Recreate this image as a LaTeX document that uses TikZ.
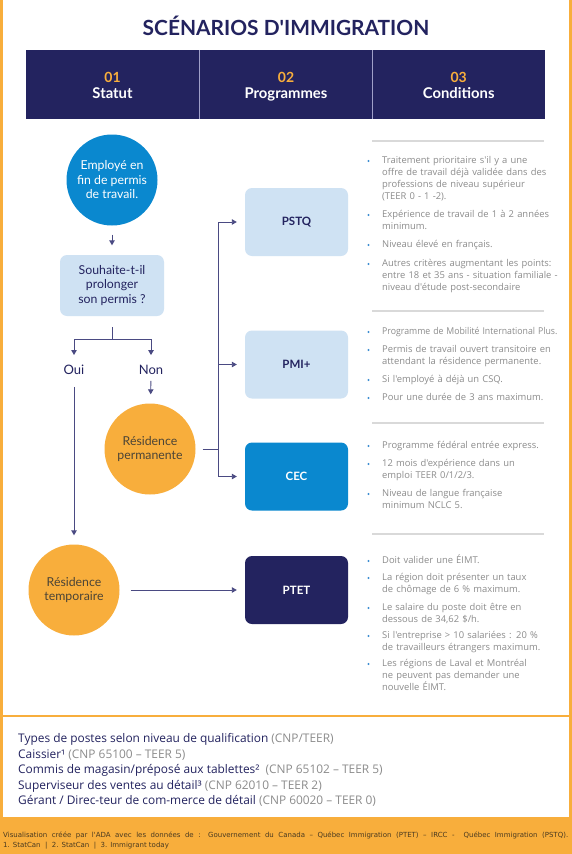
\documentclass[tikz,border=0pt]{standalone}
\usepackage{fontspec}
\setmainfont{Lato}
\newfontfamily\osans{Open Sans}
\newfontfamily\dvsans{DejaVu Sans}
\usetikzlibrary{arrows.meta}
\definecolor{navy}{HTML}{23235F}
\definecolor{orng}{HTML}{F8AE3C}
\definecolor{cblue}{HTML}{0A88CF}
\definecolor{lblue}{HTML}{CFE2F3}
\definecolor{gtext}{HTML}{8C8C8C}
\definecolor{sepgray}{HTML}{D9D9D9}
\definecolor{bblue}{HTML}{3C8DD2}
\definecolor{circtext}{HTML}{4B4436}
\definecolor{divline}{HTML}{A0A0C8}
\definecolor{linecol}{HTML}{4A4A82}
\definecolor{srctext}{HTML}{4A3A20}
\tikzset{
  circ/.style={circle, minimum size=91pt, inner sep=0pt, align=center, font=\fontsize{12.3}{14.5}\selectfont},
  bluecirc/.style={circ, fill=cblue, text=white},
  orcirc/.style={circ, fill=orng, text=circtext},
  prog/.style={rounded corners=7pt, minimum width=103pt, minimum height=68pt, inner sep=0pt, font=\bfseries\fontsize{11.5}{14}\selectfont},
  lprog/.style={prog, fill=lblue, text=navy},
  qbox/.style={rounded corners=7pt, minimum width=104pt, minimum height=61pt, inner sep=0pt, fill=lblue, text=navy, align=center, font=\fontsize{12.3}{14.2}\selectfont},
  lbl/.style={inner sep=0pt, text=navy, font=\fontsize{13}{15}\selectfont},
  conn/.style={draw=linecol, line width=0.9pt, -{Triangle[length=5pt,width=5.5pt]}},
  plain/.style={draw=linecol, line width=0.9pt},
  btext/.style={anchor=north west, inner sep=0pt, text=gtext, align=left, text width=185pt, font=\osans\fontsize{9.4}{12}\selectfont},
  hnum/.style={anchor=base, text=orng, font=\bfseries\fontsize{14}{16}\selectfont, inner sep=0pt},
  htit/.style={anchor=base, text=white, font=\bfseries\fontsize{14.8}{17}\selectfont, inner sep=0pt},
  fline/.style={anchor=base west, inner sep=0pt, text=navy, font=\osans\fontsize{11.9}{14}\selectfont},
  srcline/.style={anchor=base west, inner sep=0pt, text=srctext, font=\dvsans\fontsize{7}{9}\selectfont},
  sep/.style={draw=sepgray, line width=1.2pt},
}
\newcommand{\bitem}[3]{%
  \node[btext] (#1) at (382,#2-6.5) {\strut #3};
  \fill[bblue] (368.5,#2) circle (1.1pt);}
\begin{document}
\begin{tikzpicture}[x=1pt,y=-1pt]
\useasboundingbox (0,0) rectangle (572,854);
% frame
\fill[white] (0,0) rectangle (572,854);
\fill[orng] (0,0) rectangle (2.5,818);
\fill[orng] (568.5,0) rectangle (572,818);
\fill[orng] (0,817) rectangle (572,854);
\draw[orng, line width=1.5pt] (0,716) -- (572,716);
% title
\node[text=navy, font=\bfseries\fontsize{20.9}{24}\selectfont, inner sep=0pt] (title) at (286,26) {SCÉNARIOS D\textquotesingle IMMIGRATION};
% header bar
\fill[navy] (26,50) rectangle (545,119);
\draw[divline, line width=0.8pt] (199,50) -- (199,119);
\draw[divline, line width=0.8pt] (372.3,50) -- (372.3,119);
\node[hnum] (n1) at (112.5,82) {01};
\node[htit] (t1) at (112.5,98) {Statut};
\node[hnum] (n2) at (286,82) {02};
\node[htit] (t2) at (286,98) {Programmes};
\node[hnum] (n3) at (458.7,82) {03};
\node[htit] (t3) at (458.7,98) {Conditions};
% flow nodes
\node[bluecirc] (emp) at (112,180) {Employé en\\fin de permis\\de travail.};
\node[qbox] (q) at (112,285.5) {Souhaite-t-il\\prolonger\\son permis ?};
\coordinate (br) at (112,339);
\node[lbl] (oui) at (74,370) {Oui};
\node[lbl] (non) at (151,370) {Non};
\node[orcirc] (rp) at (150,449) {Résidence\\permanente};
\node[orcirc] (rt) at (74,590) {Résidence\\temporaire};
\node[lprog] (pstq) at (296.5,222) {PSTQ};
\node[lprog] (pmi) at (296.5,364.5) {PMI+};
\node[prog, fill=cblue, text=white] (cec) at (296.5,476.5) {CEC};
\node[prog, fill=navy, text=white] (ptet) at (296.5,590) {PTET};
\coordinate (jn) at (218,449);
% connectors
\draw[conn, shorten <=9pt, shorten >=9.5pt] (emp) -- (q);
\draw[plain, shorten <=11pt] (q) -- (br);
\draw[conn, shorten >=10pt] (br) -| (oui);
\draw[conn, shorten >=10pt] (br) -| (non);
\draw[conn, shorten <=6pt, shorten >=9pt] (non) -- (rp);
\draw[conn, shorten <=12pt, shorten >=9pt] (oui) -- (rt);
\draw[plain, shorten <=7pt] (rp) -- (jn);
\draw[conn, shorten >=8pt] (jn) |- (pstq);
\draw[conn, shorten >=8pt] (jn) |- (pmi);
\draw[conn, shorten >=8pt] (jn) |- (cec);
\draw[conn, shorten <=11pt, shorten >=8pt] (rt) -- (ptet);
% conditions
\draw[sep] (372,141) -- (544,141);
\draw[sep] (372,311) -- (544,311);
\draw[sep] (372,423) -- (544,423);
\draw[sep] (372,534) -- (544,534);
\bitem{a1}{161}{Traitement prioritaire s'il y a une\\offre de travail déjà validée dans des\\professions de niveau supérieur\\(TEER 0 - 1 -2).}
\bitem{a2}{215}{Expérience de travail de 1 à 2 années\\minimum.}
\bitem{a3}{245}{Niveau élevé en français.}
\bitem{a4}{264}{Autres critères augmentant les points:\\entre 18 et 35 ans - situation familiale -\\niveau d'étude post-secondaire}
\bitem{b1}{332}{\scalebox{0.93}[1]{Programme de Mobilité International Plus.}}
\bitem{b2}{350}{Permis de travail ouvert transitoire en\\attendant la résidence permanente.}
\bitem{b3}{380}{Si l'employé à déjà un CSQ.}
\bitem{b4}{398}{Pour une durée de 3 ans maximum.}
\bitem{c1}{446}{Programme fédéral entrée express.}
\bitem{c2}{464}{12 mois d'expérience dans un\\emploi TEER 0/1/2/3.}
\bitem{c3}{494}{Niveau de langue française\\minimum NCLC 5.}
\bitem{d1}{561}{Doit valider une ÉIMT.}
\bitem{d2}{578}{La région doit présenter un taux\\de chômage de 6 \% maximum.}
\bitem{d3}{608}{Le salaire du poste doit être en\\dessous de 34,62 \$/h.}
\bitem{d4}{636}{Si l'entreprise > 10 salariées : 20 \%\\de travailleurs étrangers maximum.}
\bitem{d5}{664}{Les régions de Laval et Montréal\\ne peuvent pas demander une\\nouvelle ÉIMT.}
% footer list
\node[fline] (f1) at (18,742.5) {Types de postes selon niveau de qualification \textcolor{gtext}{(CNP/TEER)}};
\node[fline] (f2) at (18,758) {Caissier¹ \textcolor{gtext}{(CNP 65100 – TEER 5)}};
\node[fline] (f3) at (18,773.5) {Commis de magasin/préposé aux tablettes²\ \ \textcolor{gtext}{(CNP 65102 – TEER 5)}};
\node[fline] (f4) at (18,789) {Superviseur des ventes au détail³ \textcolor{gtext}{(CNP 62010 – TEER 2)}};
\node[fline] (f5) at (18,804.5) {Gérant / Direc-teur de com-merce de détail \textcolor{gtext}{(CNP 60020 – TEER 0)}};
% sources
\node[srcline] (s1) at (3,837) {\makebox[565pt][s]{Visualisation créée par l'ADA avec les données de : Gouvernement du Canada – Québec Immigration (PTET) – IRCC - \ Québec Immigration (PSTQ).}};
\node[srcline] (s2) at (3,847) {1. StatCan \ | \ 2. StatCan \ | \ 3. Immigrant today};
\end{tikzpicture}
\end{document}
